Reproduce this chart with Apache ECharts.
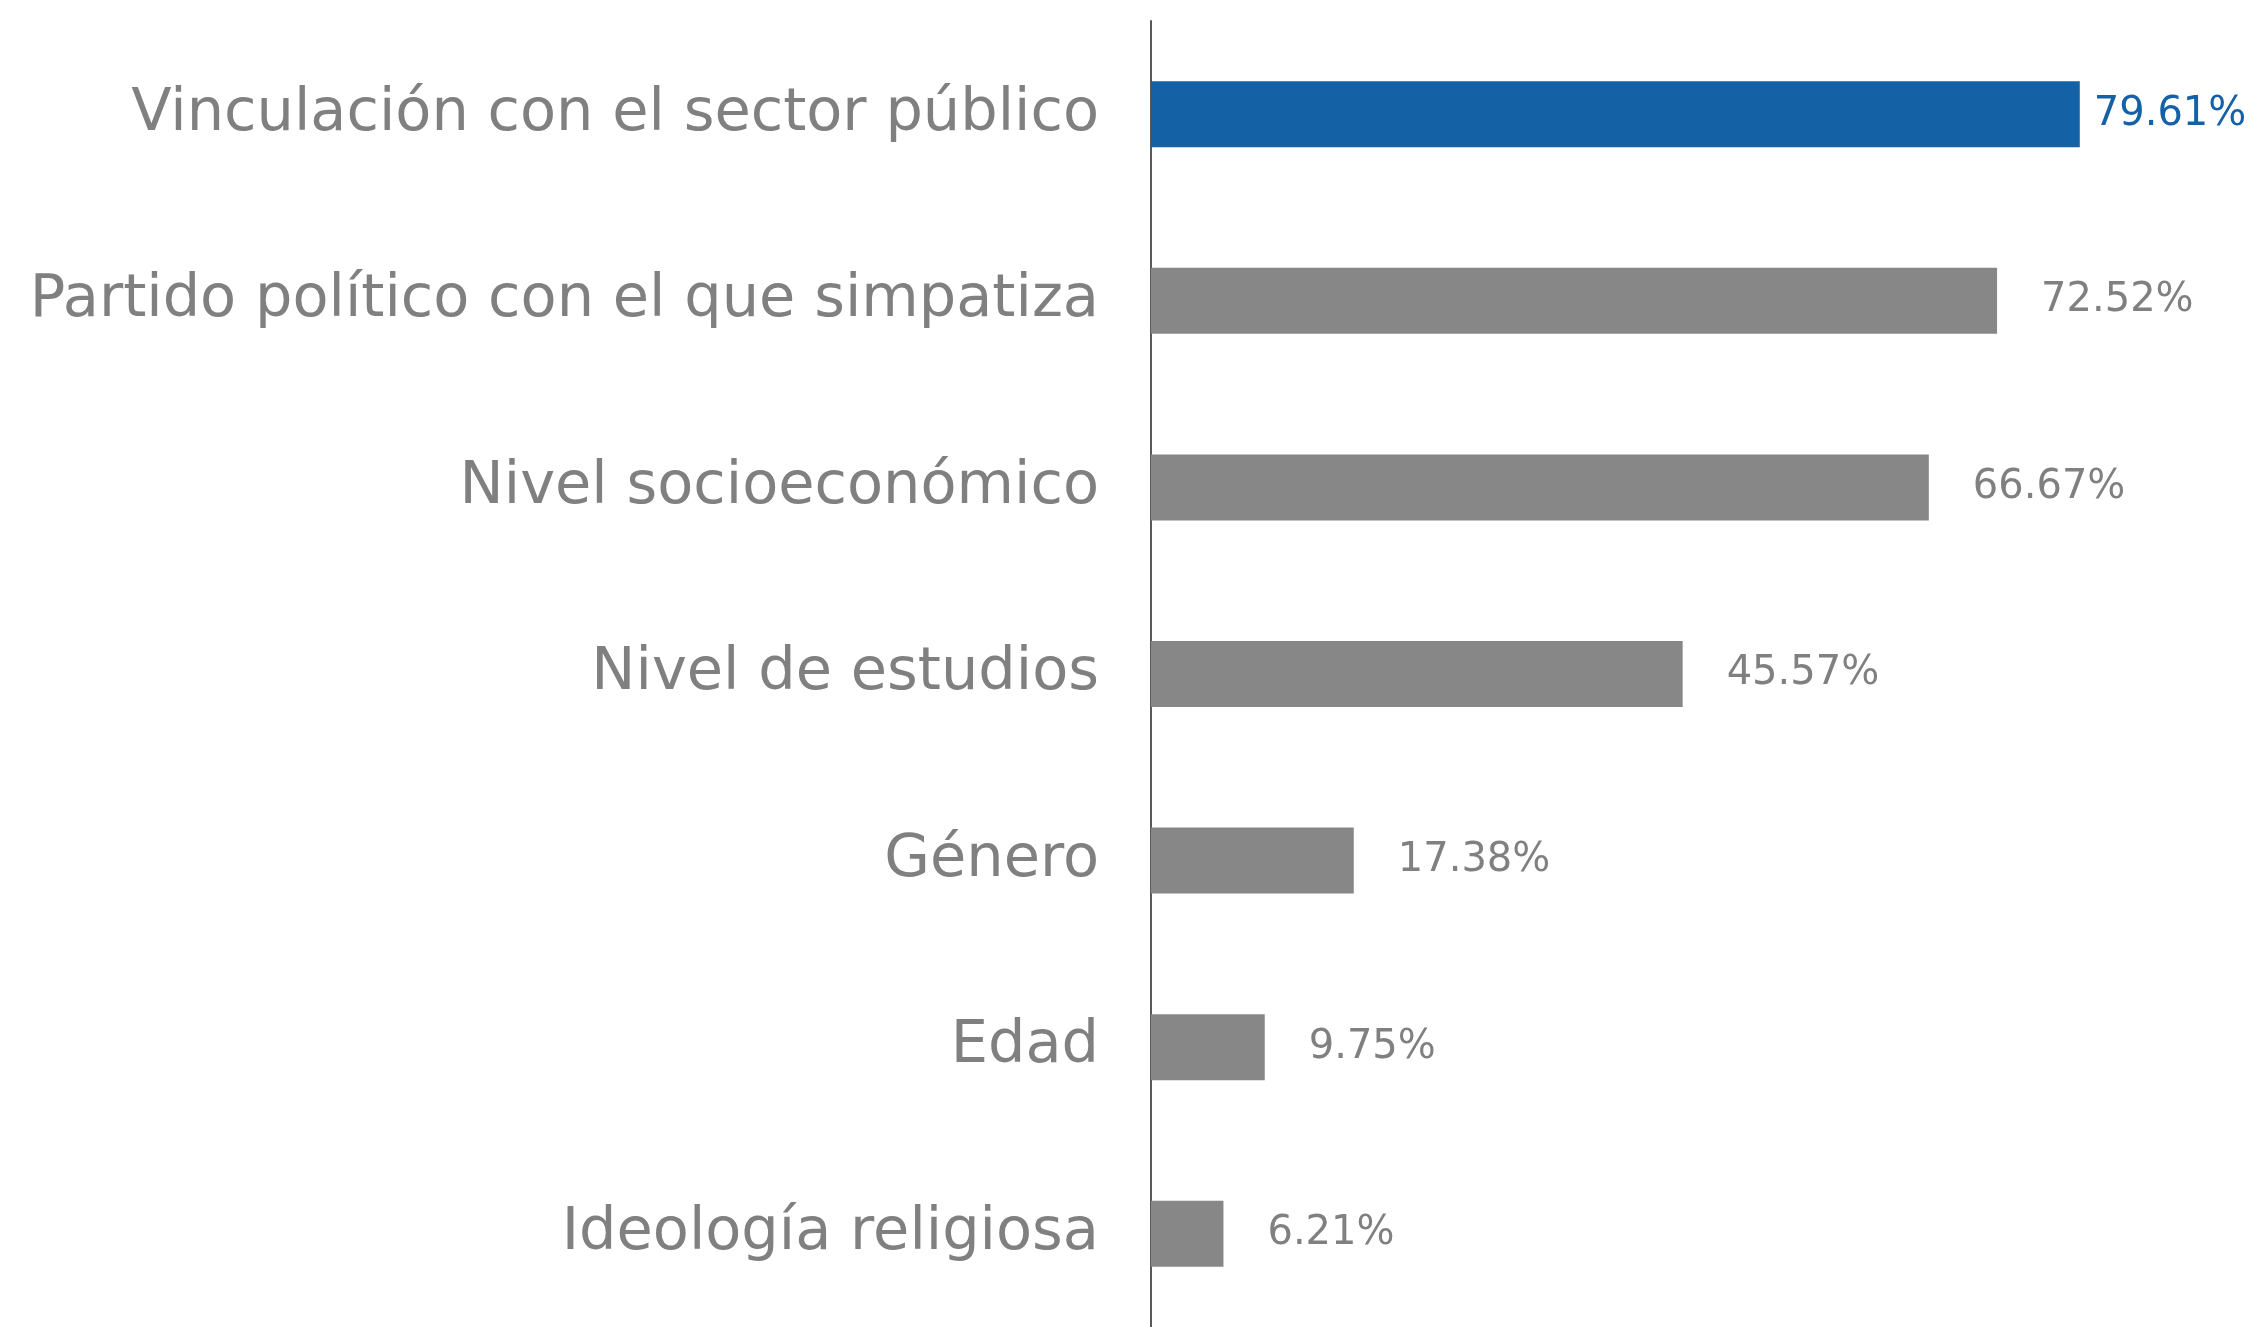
<!DOCTYPE html>
<html>
<head>
<meta charset="utf-8">
<script src="https://cdn.jsdelivr.net/npm/echarts@6/dist/echarts.min.js"></script>
<style>
  html, body { margin: 0; padding: 0; background: #fff; }
  #chart { width: 2256px; height: 1327px; }
</style>
</head>
<body>
<div id="chart"></div>
<script>
// categories, top to bottom
var categories = [
  "Vinculación con el sector público",
  "Partido político con el que simpatiza",
  "Nivel socioeconómico",
  "Nivel de estudios",
  "Género",
  "Edad",
  "Ideología religiosa"
];
var values = [79.61, 72.52, 66.67, 45.57, 17.38, 9.75, 6.21];
var highlight = 0; // index of the blue bar

var blue = "#1561a5",
  grey = "#878787",
  textGrey = "#808080",
  font = "DejaVu Sans";

var chart = echarts.init(document.getElementById("chart"));

var seriesData = values.map(function (v, i) {
  var hot = i === highlight;
  return {
    value: v,
    itemStyle: { color: hot ? blue : grey },
    label: {
      color: hot ? blue : textGrey,
      distance: hot ? 14 : 44
    }
  };
});

chart.setOption({
  animation: false,
  grid: { left: 1151, top: 21, width: 1050, height: 1312 },
  xAxis: {
    type: "value",
    min: 0,
    max: 90,
    show: false
  },
  yAxis: {
    type: "category",
    inverse: true,
    data: categories,
    axisLine: { show: true, lineStyle: { color: "#595959", width: 2 } },
    axisTick: { show: false },
    axisLabel: {
      margin: 52,
      color: textGrey,
      fontFamily: font,
      fontSize: 59
    }
  },
  series: [
    {
      type: "bar",
      barWidth: 66,
      data: seriesData,
      label: {
        show: true,
        position: "right",
        fontFamily: font,
        fontSize: 40,
        formatter: function (p) {
          return p.value.toFixed(2) + "%";
        }
      }
    }
  ]
});
</script>
</body>
</html>
